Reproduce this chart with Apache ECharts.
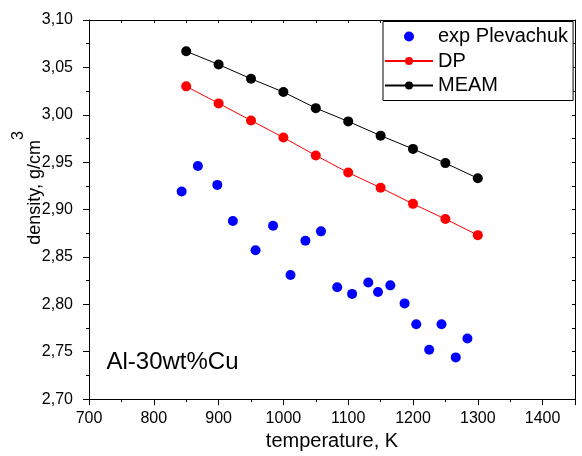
<!DOCTYPE html>
<html><head><meta charset="utf-8">
<script src="https://cdn.jsdelivr.net/npm/echarts@6/dist/echarts.min.js"></script>
<style>html,body{margin:0;padding:0;background:#fff}#c{width:582px;height:456px}</style>
</head><body><div id="c"></div>
<script>
const FONT = "'Liberation Sans', Arial, sans-serif";
const seriesNames = ['exp Plevachuk', 'DP', 'MEAM'];
const modelTemp = [850, 900, 950, 1000, 1050, 1100, 1150, 1200, 1250, 1300];
const dpDensity = [3.030, 3.012, 2.994, 2.976, 2.957, 2.939, 2.923, 2.906, 2.890, 2.873];
const meamDensity = [3.067, 3.053, 3.038, 3.024, 3.007, 2.993, 2.978, 2.964, 2.949, 2.933];
const expTemp = [843, 868, 898, 922, 957, 984, 1011, 1034, 1058, 1083, 1106, 1131, 1146, 1165, 1187, 1205, 1225, 1244, 1266, 1284];
const expDensity = [2.919, 2.946, 2.926, 2.888, 2.857, 2.883, 2.831, 2.867, 2.877, 2.818, 2.811, 2.823, 2.813, 2.820, 2.801, 2.779, 2.752, 2.779, 2.744, 2.764];
const xRange = [700, 1450];
const yRange = [2.70, 3.10];
const xLabelStep = 100;
const yLabelStep = 0.05;

const zip = (a, b) => a.map((v, i) => [v, b[i]]);
const black = '#000';

const chart = echarts.init(document.getElementById('c'), null, {renderer: 'canvas'});
chart.setOption({
  animation: false,
  backgroundColor: '#fff',
  grid: {left: 89, right: 7, top: 20, bottom: 54, containLabel: false},
  legend: {
    orient: 'vertical', left: 383, top: 21.5,
    padding: [5, 5, 5, 1], itemGap: 4.5, itemWidth: 48, itemHeight: 10,
    borderColor: black, borderWidth: 1, backgroundColor: '#fff',
    textStyle: {fontSize: 20, fontFamily: FONT, color: black},
    data: seriesNames
  },
  xAxis: [
    {type: 'value', position: 'bottom', min: xRange[0], max: xRange[1], interval: 50,
     axisLine: {show: true, onZero: false, lineStyle: {color: black, width: 1}},
     axisTick: {show: true, length: 3, lineStyle: {color: black}},
     axisLabel: {formatter: v => (v % xLabelStep === 0 && v < xRange[1]) ? String(v) : '', fontSize: 16, fontFamily: FONT, color: black, margin: 11},
     splitLine: {show: false},
     name: 'temperature, K', nameLocation: 'middle', nameGap: 28,
     nameTextStyle: {fontSize: 20, fontFamily: FONT, color: black}},
    {type: 'value', position: 'bottom', min: xRange[0], max: xRange[1], interval: xLabelStep,
     axisLine: {show: false}, axisTick: {show: true, length: 6, lineStyle: {color: black}},
     axisLabel: {show: false}, splitLine: {show: false}},
    {type: 'value', position: 'top', min: xRange[0], max: xRange[1], interval: 50,
     axisLine: {show: true, onZero: false, lineStyle: {color: black, width: 1}},
     axisTick: {show: true, inside: true, length: 3, lineStyle: {color: black}},
     axisLabel: {show: false}, splitLine: {show: false}}
  ],
  yAxis: [
    {type: 'value', position: 'left', min: yRange[0], max: yRange[1], interval: yLabelStep,
     axisLine: {show: true, onZero: false, lineStyle: {color: black, width: 1}},
     axisTick: {show: true, length: 6, lineStyle: {color: black}},
     minorTick: {show: true, splitNumber: 2, length: 3, lineStyle: {color: black}},
     axisLabel: {formatter: v => v.toFixed(2).replace('.', ','), fontSize: 16, fontFamily: FONT, color: black, margin: 16},
     splitLine: {show: false}},
    {type: 'value', position: 'right', min: yRange[0], max: yRange[1], interval: yLabelStep / 2,
     axisLine: {show: true, onZero: false, lineStyle: {color: black, width: 1}},
     axisTick: {show: true, inside: true, length: 3, lineStyle: {color: black}},
     axisLabel: {show: false}, splitLine: {show: false}}
  ],
  graphic: [
    {type: 'text', x: 27.5, y: 188, rotation: Math.PI / 2,
     style: {text: '{m|density, g/cm}{sup|3}', fill: black, fontSize: 18, fontFamily: FONT,
             align: 'center', verticalAlign: 'middle', textAlign: 'center', textVerticalAlign: 'middle',
             rich: {
               m: {fontSize: 18, fontFamily: FONT, fill: black, verticalAlign: 'bottom', lineHeight: 33},
               sup: {fontSize: 16, fontFamily: FONT, fill: black, verticalAlign: 'top', lineHeight: 16}
             }}},
    {type: 'text', x: 106.5, y: 362,
     style: {text: 'Al-30wt%Cu', fill: black, fontSize: 24, fontFamily: FONT,
             align: 'left', verticalAlign: 'middle', textAlign: 'left', textVerticalAlign: 'middle'}}
  ],
  series: [
    {name: seriesNames[0], type: 'scatter', xAxisIndex: 0, yAxisIndex: 0,
     data: zip(expTemp, expDensity), symbol: 'circle', symbolSize: 10,
     itemStyle: {color: '#0000ff', opacity: 1}},
    {name: seriesNames[1], type: 'line', xAxisIndex: 0, yAxisIndex: 0,
     data: zip(modelTemp, dpDensity), symbol: 'circle', symbolSize: 10, showSymbol: true,
     itemStyle: {color: '#ff0000'}, lineStyle: {color: '#ff0000', width: 1}},
    {name: seriesNames[2], type: 'line', xAxisIndex: 0, yAxisIndex: 0,
     data: zip(modelTemp, meamDensity), symbol: 'circle', symbolSize: 10, showSymbol: true,
     itemStyle: {color: black}, lineStyle: {color: black, width: 1}}
  ]
});
</script>
</body></html>
